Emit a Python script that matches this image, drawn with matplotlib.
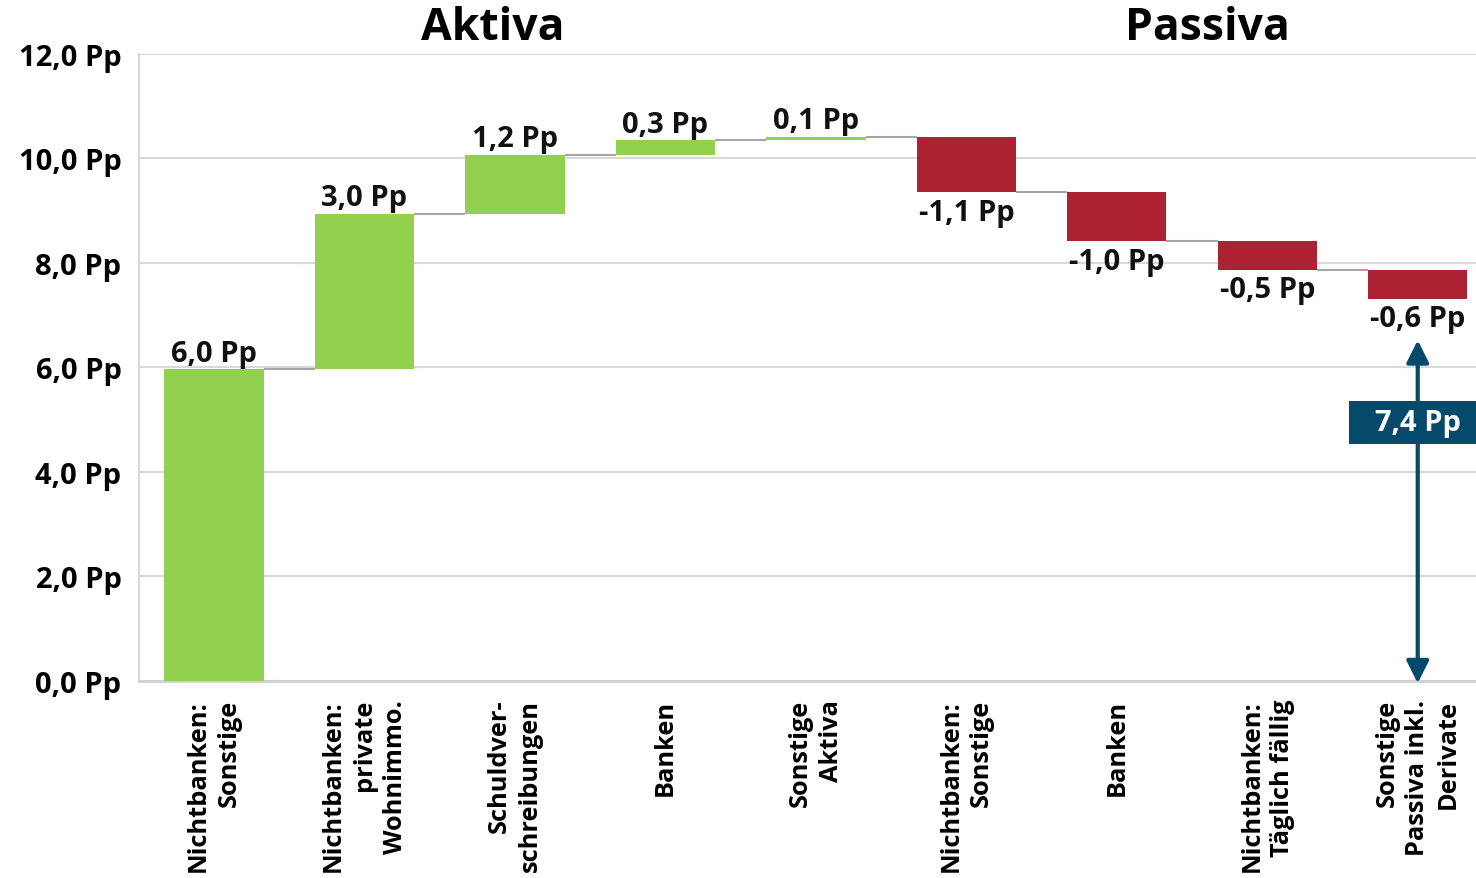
# -*- coding: utf-8 -*-
import matplotlib
matplotlib.use('Agg')
import matplotlib.pyplot as plt
from matplotlib.patches import Rectangle
import numpy as np

# categories (x axis) and contributions in percentage points
categories = ['Nichtbanken:\nSonstige', 'Nichtbanken:\nprivate\nWohnimmo.',
	'Schuldver-\nschreibungen', 'Banken', 'Sonstige\nAktiva',
	'Nichtbanken:\nSonstige', 'Banken', 'Nichtbanken:\nTäglich fällig',
	'Sonstige\nPassiva inkl.\nDerivate']
values = [5.97, 2.97, 1.13, 0.28, 0.07, -1.07, -0.93, -0.55, -0.56]
value_labels = ['6,0 Pp', '3,0 Pp', '1,2 Pp', '0,3 Pp', '0,1 Pp',
	'-1,1 Pp', '-1,0 Pp', '-0,5 Pp', '-0,6 Pp']
total_label = '7,4 Pp'
y_ticks = [0, 2, 4, 6, 8, 10, 12]
y_tick_labels = ['0,0 Pp', '2,0 Pp', '4,0 Pp', '6,0 Pp', '8,0 Pp', '10,0 Pp', '12,0 Pp']
group_titles = ['Aktiva', 'Passiva']

GREEN = '#92D050'
RED = '#AC2232'
BLUE = '#054A6B'
GRID = '#D9D9D9'

plt.rcParams['font.family'] = ['Open Sans', 'DejaVu Sans']
plt.rcParams['font.weight'] = 'bold'

fig = plt.figure(figsize=(14.76, 8.79), dpi=100)
ax = fig.add_axes([0.094, 0.2245, 0.9175, 0.7129])

x = np.arange(len(values))
vals = np.array(values)
ends = np.cumsum(vals)
starts = ends - vals
width = 0.66
colors = [GREEN if v > 0 else RED for v in vals]

ax.bar(x, vals, bottom=starts, width=width, color=colors, zorder=3)

# connectors between bars
ax.hlines(ends[:-1], x[:-1] + width / 2, x[1:] - width / 2, color='#A6A6A6', lw=1.5, zorder=2)

# value labels
for xi, v, s, e, lab in zip(x, vals, starts, ends, value_labels):
	if v > 0:
		ax.annotate(lab, (xi, e), xytext=(0, 1), textcoords='offset points',
			ha='center', va='bottom', fontsize=21, fontweight='bold', color='#111111')
	else:
		ax.annotate(lab, (xi, e), xytext=(0, -4), textcoords='offset points',
			ha='center', va='top', fontsize=21, fontweight='bold', color='#111111')

# total arrow on the last bar
ax.annotate('', xy=(x[-1], -0.05), xytext=(x[-1], 6.52),
	arrowprops=dict(arrowstyle='<|-|>,head_length=0.9,head_width=0.45', mutation_scale=15,
		color=BLUE, lw=3, shrinkA=0, shrinkB=0), zorder=5, annotation_clip=False)
ax.add_patch(Rectangle((x[-1] - 0.46, 4.54), 0.92, 0.82, facecolor=BLUE, edgecolor='none',
	zorder=6, clip_on=False))
ax.text(x[-1], 4.95, total_label, ha='center', va='center', fontsize=21, fontweight='bold',
	color='white', zorder=7)

# group titles
ax.text(1.85, 1.043, group_titles[0], transform=ax.get_xaxis_transform(), ha='center', va='center',
	fontsize=32, fontweight='bold', color='black')
ax.text(6.6, 1.043, group_titles[1], transform=ax.get_xaxis_transform(), ha='center', va='center',
	fontsize=32, fontweight='bold', color='black')

ax.set_xlim(-0.5, len(values) - 0.5)
ax.set_ylim(0, 12)
ax.set_yticks(y_ticks)
ax.set_yticklabels(y_tick_labels, fontsize=21, fontweight='bold')
ax.set_xticks(x)
ax.set_xticklabels(categories, rotation=90, fontsize=18.3, fontweight='bold',
	multialignment='right', linespacing=1.3)
ax.tick_params(axis='both', length=0)
ax.tick_params(axis='y', pad=12.5)
ax.tick_params(axis='x', pad=13)

ax.grid(axis='y', color=GRID, lw=1.5, zorder=0)
ax.set_axisbelow(True)
for side in ['top', 'right']:
	ax.spines[side].set_visible(False)
ax.spines['left'].set_color(GRID)
ax.spines['left'].set_linewidth(1.5)
ax.spines['bottom'].set_color('#D0D0D0')
ax.spines['bottom'].set_linewidth(2)

plt.savefig('out.png', dpi=100)
